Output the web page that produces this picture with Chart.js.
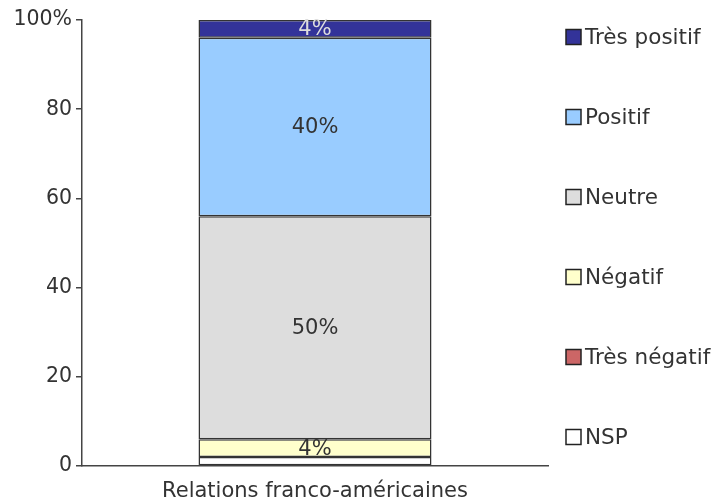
<!DOCTYPE html>
<html>
<head>
<meta charset="utf-8">
<script src="https://cdn.jsdelivr.net/npm/chart.js@4/dist/chart.umd.min.js"></script>
<style>
  body { margin: 0; background: #fff; }
  canvas { display: block; }
</style>
</head>
<body>
<canvas id="chart" width="715" height="498"></canvas>
<script>
// Données
const categories = ['Relations franco-américaines'];
const seriesNames = ['NSP', 'Très négatif', 'Négatif', 'Neutre', 'Positif', 'Très positif'];
const nsp = [2];
const tresNegatif = [0];
const negatif = [4];
const neutre = [50];
const positif = [40];
const tresPositif = [4];
const yTicks = [0, 20, 40, 60, 80, 100];

const seriesValues = [nsp, tresNegatif, negatif, neutre, positif, tresPositif];
const seriesColors = ['#ffffff', '#cc6666', '#ffffcc', '#dddddd', '#99ccff', '#333399'];
const labelColors = ['#333333', '#333333', '#333333', '#333333', '#333333', '#dddddd'];

const FONT = 'DejaVu Sans, Verdana, sans-serif';

// Étiquettes de valeur au centre des segments
const valueLabels = {
    id: 'valueLabels',
    afterDatasetsDraw(chart) {
        const ctx = chart.ctx;
        ctx.save();
        ctx.font = '21px ' + FONT;
        ctx.textAlign = 'center';
        ctx.textBaseline = 'middle';
        chart.data.datasets.forEach((ds, i) => {
            const meta = chart.getDatasetMeta(i);
            meta.data.forEach((bar, j) => {
                const v = ds.data[j];
                if (v < 3) return;
                ctx.fillStyle = labelColors[i];
                ctx.fillText(v + '%', bar.x, (bar.y + bar.base) / 2 + 1);
            });
        });
        ctx.restore();
    }
};

// Légende à droite, ordre inversé
const sideLegend = {
    id: 'sideLegend',
    afterDraw(chart) {
        const ctx = chart.ctx;
        const n = chart.data.datasets.length;
        ctx.save();
        ctx.font = '21.5px ' + FONT;
        ctx.textBaseline = 'middle';
        for (let k = 0; k < n; k++) {
            const ds = chart.data.datasets[n - 1 - k];
            const cy = 37 + k * 80;
            ctx.fillStyle = ds.backgroundColor;
            ctx.fillRect(566, cy - 7.5, 15, 15);
            ctx.strokeStyle = '#222';
            ctx.lineWidth = 1.5;
            ctx.strokeRect(566, cy - 7.5, 15, 15);
            ctx.fillStyle = '#333';
            ctx.fillText(ds.label, 585, cy + 1);
        }
        ctx.restore();
    }
};

const datasets = seriesNames.map((name, i) => ({
    label: name,
    data: seriesValues[i],
    backgroundColor: seriesColors[i],
    borderColor: '#333',
    borderWidth: c => (c.raw ? 1.5 : 0),
    borderSkipped: false,
    barPercentage: 0.5,
    categoryPercentage: 1
}));

new Chart(document.getElementById('chart'), {
    type: 'bar',
    data: { labels: categories, datasets: datasets },
    options: {
        responsive: false,
        animation: false,
        layout: { padding: { left: 0, right: 167, top: 20, bottom: 0 } },
        plugins: {
            legend: { display: false },
            tooltip: { enabled: false }
        },
        scales: {
            x: {
                stacked: true,
                grid: { display: false },
                border: { display: true, color: '#444', width: 1.5 },
                ticks: { color: '#333', font: { family: FONT, size: 21 }, padding: 5 },
                afterFit(scale) { scale.height = 32; }
            },
            y: {
                stacked: true,
                min: 0,
                max: 100,
                afterBuildTicks(scale) { scale.ticks = yTicks.map(v => ({ value: v })); },
                ticks: {
                    color: '#333',
                    font: { family: FONT, size: 20.5 },
                    padding: 4,
                    callback: v => v === 100 ? '100%' : v
                },
                grid: { drawOnChartArea: false, tickLength: 6, color: '#444', lineWidth: 1.5 },
                border: { display: true, color: '#444', width: 1.5 },
                afterFit(scale) { scale.width = 82; }
            }
        }
    },
    plugins: [valueLabels, sideLegend]
});
</script>
</body>
</html>
